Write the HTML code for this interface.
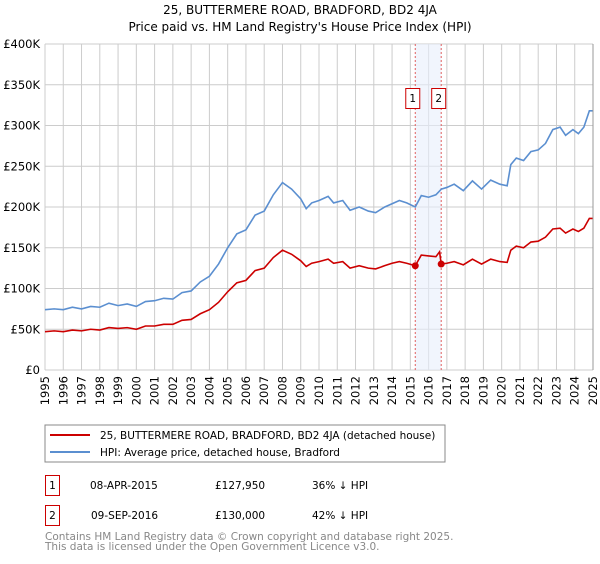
<!DOCTYPE html>
<html><head><meta charset="utf-8"><style>
body{margin:0;background:#fff;width:600px;height:560px;overflow:hidden;font-family:"DejaVu Sans","Liberation Sans",sans-serif}
svg text{font-family:"DejaVu Sans","Liberation Sans",sans-serif}
</style></head><body>
<svg id="chart" width="600" height="560" xmlns="http://www.w3.org/2000/svg">
<text x="300" y="14" text-anchor="middle" font-size="12">25, BUTTERMERE ROAD, BRADFORD, BD2 4JA</text>
<text x="300" y="31" text-anchor="middle" font-size="12">Price paid vs. HM Land Registry's House Price Index (HPI)</text>
<g id="grid"></g><g id="band"></g><g id="lines"></g><g id="axes"></g>
<rect x="45" y="425" width="400" height="37" fill="#fff" stroke="#888"/>
<line x1="50" y1="435" x2="90" y2="435" stroke="#cc0000" stroke-width="2"/>
<text x="100" y="439" font-size="10.5">25, BUTTERMERE ROAD, BRADFORD, BD2 4JA (detached house)</text>
<line x1="50" y1="452" x2="90" y2="452" stroke="#5b8fd0" stroke-width="2"/>
<text x="100" y="456" font-size="10.5">HPI: Average price, detached house, Bradford</text>
<g>
<rect x="45.5" y="475.5" width="14" height="20" fill="none" stroke="#cc0000"/><text x="52.5" y="489" text-anchor="middle" font-size="10.5">1</text>
<text x="90" y="489" font-size="10.5">08-APR-2015</text><text x="215" y="489" font-size="10.5">£127,950</text><text x="312" y="489" font-size="10.5">36% ↓ HPI</text></g>
<g>
<rect x="45.5" y="505.5" width="14" height="20" fill="none" stroke="#cc0000"/><text x="52.5" y="519" text-anchor="middle" font-size="10.5">2</text>
<text x="91" y="519" font-size="10.5">09-SEP-2016</text><text x="215" y="519" font-size="10.5">£130,000</text><text x="312" y="519" font-size="10.5">42% ↓ HPI</text></g>
<text x="45" y="540" font-size="10.5" fill="#888">Contains HM Land Registry data © Crown copyright and database right 2025.</text>
<text x="45" y="550" font-size="10.5" fill="#888">This data is licensed under the Open Government Licence v3.0.</text>
</svg>
<script>
const yTicks=[0,50,100,150,200,250,300,350,400];
const yTickLabels=["£0","£50K","£100K","£150K","£200K","£250K","£300K","£350K","£400K"];
const xYears=[1995,1996,1997,1998,1999,2000,2001,2002,2003,2004,2005,2006,2007,2008,2009,2010,2011,2012,2013,2014,2015,2016,2017,2018,2019,2020,2021,2022,2023,2024,2025];
const hpiDates=[1995.0,1995.5,1996.0,1996.5,1997.0,1997.5,1998.0,1998.5,1999.0,1999.5,2000.0,2000.5,2001.0,2001.5,2002.0,2002.5,2003.0,2003.5,2004.0,2004.5,2005.0,2005.5,2006.0,2006.5,2007.0,2007.5,2008.0,2008.5,2009.0,2009.3,2009.6,2010.0,2010.5,2010.8,2011.3,2011.7,2012.2,2012.7,2013.1,2013.6,2014.0,2014.4,2014.8,2015.27,2015.6,2016.0,2016.4,2016.7,2017.0,2017.4,2017.9,2018.4,2018.9,2019.4,2019.9,2020.3,2020.5,2020.8,2021.2,2021.6,2022.0,2022.4,2022.8,2023.2,2023.5,2023.9,2024.2,2024.5,2024.8,2025.0];
const hpiValues=[74,75,74,77,75,78,77,82,79,81,78,84,85,88,87,95,97,108,115,130,150,167,172,190,195,215,230,222,210,198,205,208,213,205,208,196,200,195,193,200,204,208,205,200,214,212,215,222,224,228,220,232,222,233,228,226,252,260,257,268,270,278,295,298,288,295,290,298,318,318];
const priceDates=[1995.0,1995.5,1996.0,1996.5,1997.0,1997.5,1998.0,1998.5,1999.0,1999.5,2000.0,2000.5,2001.0,2001.5,2002.0,2002.5,2003.0,2003.5,2004.0,2004.5,2005.0,2005.5,2006.0,2006.5,2007.0,2007.5,2008.0,2008.5,2009.0,2009.3,2009.6,2010.0,2010.5,2010.8,2011.3,2011.7,2012.2,2012.7,2013.1,2013.6,2014.0,2014.4,2014.8,2015.27,2015.6,2016.0,2016.4,2016.6,2016.69,2017.0,2017.4,2017.9,2018.4,2018.9,2019.4,2019.9,2020.3,2020.5,2020.8,2021.2,2021.6,2022.0,2022.4,2022.8,2023.2,2023.5,2023.9,2024.2,2024.5,2024.8,2025.0];
const priceValues=[47,48,47,49,48,50,49,52,51,52,50,54,54,56,56,61,62,69,74,83,96,107,110,122,125,138,147,142,134,127,131,133,136,131,133,125,128,125,124,128,131,133,131,127.95,141,140,139,145,130,131,133,129,136,130,136,133,132,147,152,150,157,158,163,173,174,168,173,170,174,186,186];
const saleDates=[2015.27,2016.69];
const saleValues=[127.95,130];
const saleLabels=["1","2"];
const X0=45,X1=593,Y0=370,Y1=44;
const xs=d=>X0+(d-1995)/30*(X1-X0);
const ys=v=>Y0-v/400*(Y0-Y1);
const NS="http://www.w3.org/2000/svg";
function mk(p,t,a){const e=document.createElementNS(NS,t);for(const k in a)e.setAttribute(k,a[k]);p.appendChild(e);return e;}
const grid=document.getElementById('grid'),axes=document.getElementById('axes'),lines=document.getElementById('lines'),band=document.getElementById('band');
yTicks.forEach((v,i)=>{const l=mk(grid,'line',{x1:X0,x2:X1,y1:ys(v),y2:ys(v),stroke:'#ccc'});


const t=mk(axes,'text',{x:40,y:ys(v)+4,'text-anchor':'end','font-size':'11.5'});t.textContent=yTickLabels[i];

});
xYears.forEach(y=>{const l=mk(grid,'line',{x1:xs(y),x2:xs(y),y1:Y1,y2:Y0,stroke:'#ccc'});


const t=mk(axes,'text',{x:0,y:0,'font-size':'11.5','text-anchor':'end',transform:`translate(${xs(y)+4},${Y0+6}) rotate(-90)`});t.textContent=y;

});
const b=mk(band,'rect',{x:xs(saleDates[0]),y:Y1,width:xs(saleDates[1])-xs(saleDates[0]),height:Y0-Y1,fill:'#e8effc',opacity:0.6});


saleDates.forEach((d,i)=>{const l=mk(band,'line',{x1:xs(d),x2:xs(d),y1:Y1,y2:Y0,stroke:'#e06060','stroke-dasharray':'2,2'});


const g=mk(axes,'g',{});


const bx=i==0?xs(d)-10:xs(d)-10;
mk(g,'rect',{x:bx+0.5,y:88.5,width:14,height:20,fill:'#fff',stroke:'#cc0000'});
const t=mk(g,'text',{x:bx+7.5,y:102,'text-anchor':'middle','font-size':'10.5'});t.textContent=saleLabels[i];});
const ax=mk(axes,'line',{x1:X1,x2:X1,y1:Y1,y2:Y0,stroke:'#999'});


const hp=mk(lines,'polyline',{points:hpiDates.map((d,i)=>xs(d)+','+ys(hpiValues[i])).join(' '),fill:'none',stroke:'#5b8fd0','stroke-width':1.6});


const pp=mk(lines,'polyline',{points:priceDates.map((d,i)=>xs(d)+','+ys(priceValues[i])).join(' '),fill:'none',stroke:'#cc0000','stroke-width':1.6});


saleDates.forEach((d,i)=>{const c=mk(lines,'circle',{cx:xs(d),cy:ys(saleValues[i]),r:3.5,fill:'#cc0000'});

});
</script>
</body></html>
